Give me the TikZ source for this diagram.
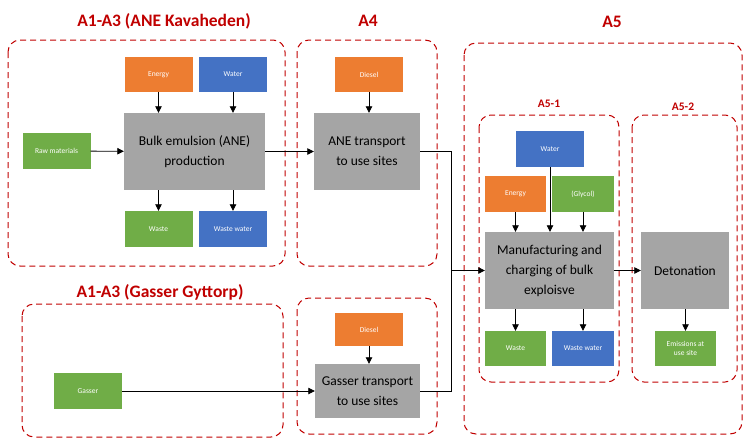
\documentclass[tikz,border=0pt]{standalone}
\usepackage{fontspec}
\setmainfont{Carlito}
\usetikzlibrary{arrows.meta}

\definecolor{boxorange}{HTML}{ED7D31}
\definecolor{boxblue}{HTML}{4472C4}
\definecolor{boxgreen}{HTML}{70AD47}
\definecolor{boxgray}{HTML}{A5A5A5}
\definecolor{stagered}{HTML}{C00000}

\tikzset{
    input/.style={rectangle, draw=none, minimum width=68pt, minimum height=35pt, text=white, align=center, inner sep=1pt, font=\fontsize{7.5}{9}\selectfont},
    process/.style={rectangle, draw=none, fill=boxgray, align=center, font=\fontsize{13.5}{20}\selectfont},
    stage/.style={draw=stagered, line width=1pt, dash pattern=on 6pt off 4pt, rounded corners=12pt},
    stagetitle/.style={text=stagered, font=\bfseries\fontsize{17.5}{20}\selectfont},
    subtitle/.style={text=stagered, font=\bfseries\fontsize{11.5}{13}\selectfont},
    flow/.style={->, line width=0.8pt, >={Triangle[length=6.5pt,width=6.5pt]}},
}

\begin{document}
\begin{tikzpicture}[x=1pt, y=-1pt]
            \useasboundingbox (0,0) rectangle (744,437);

            % stages
            \draw[stage] (8,40) rectangle (285,266);
            \draw[stage] (297,40) rectangle (437,266);
            \draw[stage] (464,43) rectangle (742,434);
            \draw[stage] (479,115) rectangle (619,382);
            \draw[stage] (632,115) rectangle (737,382);
            \draw[stage] (22,304) rectangle (283,437);
            \draw[stage] (297,298) rectangle (437,434);

            \node[stagetitle] (tane) at (164,21) {A1-A3 (ANE Kavaheden)};
            \node[stagetitle] (tafour) at (368,21) {A4};
            \node[stagetitle] (tafive) at (612,22) {A5};
            \node[subtitle] (tfiveone) at (549,104) {A5-1};
            \node[subtitle] (tfivetwo) at (683,107) {A5-2};
            \node[stagetitle] (tgasser) at (160,292) {A1-A3 (Gasser Gyttorp)};

            % A1-A3 ANE
            \node[input, fill=boxorange] (energyA) at (158.5,74.5) {Energy};
            \node[input, fill=boxblue]   (waterA)  at (233,74.5)   {Water};
            \node[process, minimum width=141pt, minimum height=77pt] (bulk) at (194.5,151.5) {Bulk emulsion (ANE)\\production};
            \node[input, fill=boxgreen, minimum height=36pt] (raw) at (56.5,151) {Raw materials};
            \node[input, fill=boxgreen, minimum height=36pt] (wasteA) at (158.5,229) {Waste};
            \node[input, fill=boxblue, minimum height=36pt]  (wwA)    at (233,229)   {Waste water};

            % A4
            \node[input, fill=boxorange] (dieselA) at (369,74.5) {Diesel};
            \node[process, minimum width=106pt, minimum height=77pt] (anetr) at (367,151.5) {ANE transport\\to use sites};
            \node[input, fill=boxorange, minimum height=33pt] (dieselB) at (369,329.5) {Diesel};
            \node[process, minimum width=105pt, minimum height=54pt] (gastr) at (367.5,391) {Gasser transport\\to use sites};

            % A1-A3 Gasser
            \node[input, fill=boxgreen, minimum height=36pt] (gasser) at (88,391) {Gasser};

            % A5-1
            \node[input, fill=boxblue, minimum height=36pt] (waterB) at (550,149) {Water};
            \node[input, fill=boxorange, minimum width=61pt, minimum height=36pt] (energyB) at (515.5,194) {Energy};
            \node[input, fill=boxgreen, minimum width=62pt, minimum height=36pt] (glycol) at (583,194) {(Glycol)};
            \node[process, minimum width=129pt, minimum height=77pt] (manuf) at (549.5,270.5) {Manufacturing and\\charging of bulk\\exploisve};
            \node[input, fill=boxgreen, minimum width=61pt] (wasteB) at (515.5,348.5) {Waste};
            \node[input, fill=boxblue, minimum width=62pt] (wwB) at (583,348.5) {Waste water};

            % A5-2
            \node[process, minimum width=88pt, minimum height=77pt] (deton) at (685,270.5) {Detonation};
            \node[input, fill=boxgreen, minimum width=61pt] (emis) at (685.5,348.5) {Emissions at\\use site};

            \coordinate (join) at (451,270.5);

            % flows
            \draw[flow] (energyA) -- (energyA |- bulk.north);
            \draw[flow] (waterA) -- (waterA |- bulk.north);
            \draw[flow] (raw) -- (bulk);
            \draw[flow] (energyA |- bulk.south) -- (wasteA);
            \draw[flow] (waterA |- bulk.south) -- (wwA);
            \draw[flow] (bulk) -- (anetr);
            \draw[flow] (dieselA) -- (dieselA |- anetr.north);
            \draw[flow] (dieselB) -- (dieselB |- gastr.north);
            \draw[flow] (gasser) -- (gastr);
            \draw[line width=0.8pt] (anetr.east) -| (join);
            \draw[line width=0.8pt] (gastr.east) -| (join);
            \draw[flow] (join) -- (manuf);
            \draw[flow] (energyB) -- (energyB |- manuf.north);
            \draw[flow] (waterB) -- (waterB |- manuf.north);
            \draw[flow] (glycol) -- (glycol |- manuf.north);
            \draw[flow] (wasteB |- manuf.south) -- (wasteB);
            \draw[flow] (wwB |- manuf.south) -- (wwB);
            \draw[flow] (manuf) -- (deton);
            \draw[flow] (emis |- deton.south) -- (emis);
\end{tikzpicture}
\end{document}
